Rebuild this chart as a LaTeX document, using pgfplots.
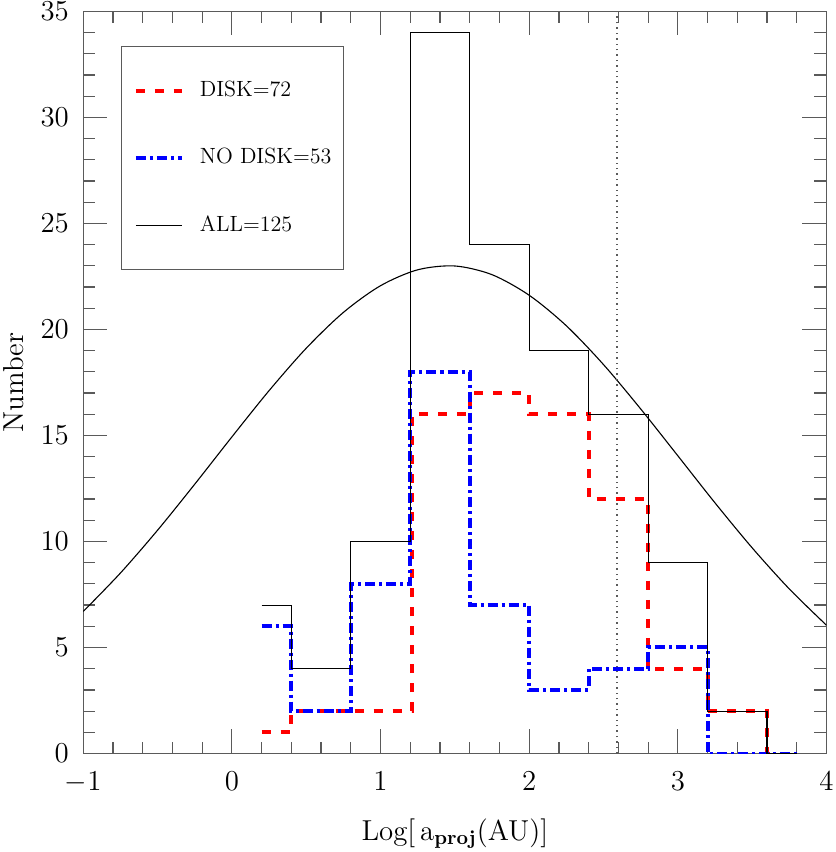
\documentclass[border=0pt]{standalone}
\usepackage{pgfplots}
\pgfplotsset{compat=1.18}
\definecolor{cDisk}{RGB}{255,0,0}
\definecolor{cNoDisk}{RGB}{0,0,255}
\definecolor{cFrame}{RGB}{90,90,90}

\begin{document}
\begin{tikzpicture}
\begin{axis}[
  scale only axis, width=371pt, height=370.5pt,
  xmin=-1, xmax=4, ymin=0, ymax=35,
  xtick={-1,0,...,4}, ytick={0,5,...,35},
  minor x tick num=4, minor y tick num=4,
  tick align=inside,
  major tick length=12pt, minor tick length=6pt,
  axis line style={cFrame, line width=0.6pt},
  tick style={cFrame, line width=0.6pt},
  tick label style={font=\fontsize{14.4}{17}\selectfont, inner sep=1pt},
  xticklabel style={yshift=-8pt},
  yticklabel style={xshift=-6pt},
  label style={font=\fontsize{14.4}{17}\selectfont, inner sep=1.5pt},
  xlabel={Log[\,a\textsubscript{\textbf{proj}}(AU)]},
  ylabel={Number},
  xlabel style={at={(axis description cs:0.5,-0.1174)}, anchor=base},
  ylabel style={at={(axis description cs:-0.0943,0.5)}, anchor=center},
  legend cell align=left,
  legend image code/.code={\draw[#1] (0pt,0pt) -- (23pt,0pt);},
  legend style={at={(rel axis cs:0.051,0.953)}, anchor=north west,
    draw=cFrame, line width=0.6pt, fill=white,
    font=\fontsize{11}{13}\selectfont,
    inner xsep=6pt, inner ysep=17pt, row sep=23.5pt, column sep=8pt,
    nodes={inner sep=0pt, text height=8pt, text depth=2pt}},
]
% Gaussian fit
\addplot[black, line width=0.55pt, smooth, forget plot] coordinates {
  (-1,6.70) (-0.75,8.51) (-0.5,10.53) (-0.25,12.70) (0,14.93) (0.25,17.11)
  (0.5,19.11) (0.75,20.80) (1,22.06) (1.25,22.81) (1.5,22.99) (1.75,22.58)
  (2,21.61) (2.25,20.17) (2.5,18.34) (2.75,16.25) (3,14.04) (3.25,11.82)
  (3.5,9.70) (3.75,7.76) (4,6.05)};
% vertical reference
\addplot[cFrame, dotted, line width=0.7pt, forget plot] coordinates {(2.59,0) (2.59,35)};
% disk
\addplot[cDisk, const plot, line width=2pt, dash pattern=on 4.5pt off 5pt] coordinates {
  (0.2,1) (0.4,2) (0.8,2) (1.21,16) (1.6,17) (2.0,16) (2.4,12) (2.8,4) (3.2,2) (3.6,0) (3.8,0)};
\addlegendentry{DISK=72}
% no disk
\addplot[cNoDisk, const plot, line width=2pt, dash pattern=on 5pt off 2pt on 1.5pt off 2pt] coordinates {
  (0.2,6) (0.4,2) (0.8,8) (1.2,18) (1.6,7) (2.0,3) (2.4,4) (2.8,5) (3.2,0) (3.8,0)};
\addlegendentry{NO DISK=53}
% all
\addplot[black, const plot, line width=0.55pt] coordinates {
  (0.2,7) (0.4,4) (0.8,10) (1.2,34) (1.6,24) (2.0,19) (2.4,16) (2.8,9) (3.2,2) (3.6,0) (3.8,0)};
\addlegendentry{ALL=125}
\end{axis}
\end{tikzpicture}
\end{document}
